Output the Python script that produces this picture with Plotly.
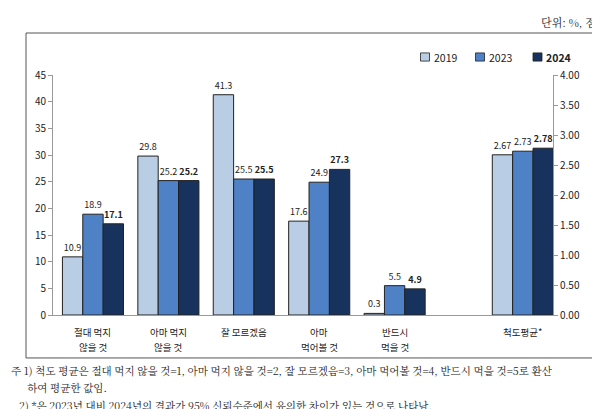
import plotly.graph_objects as go

categories = [["절대 먹지", "않을 것"], ["아마 먹지", "않을 것"], ["잘 모르겠음", ""], ["아마", "먹어볼 것"], ["반드시", "먹을 것"]]
v2019 = [10.9, 29.8, 41.3, 17.6, 0.3]
v2023 = [18.9, 25.2, 25.5, 24.9, 5.5]
v2024 = [17.1, 25.2, 25.5, 27.3, 4.9]
avg_label = "척도평균*"
avg = {"2019": 2.67, "2023": 2.73, "2024": 2.78}
years = ["2019", "2023", "2024"]

xpos = [0, 1, 2, 3, 4]
xavg = 5.7
colors = {"2019": "#b9cde5", "2023": "#4f81c7", "2024": "#17325c"}
offsets = {"2019": -0.405, "2023": -0.135, "2024": 0.135}
W = 0.27
font = "Noto Sans CJK KR"
serif = "Noto Serif CJK KR, serif"

fig = go.Figure()
for yr, vals in zip(years, [v2019, v2023, v2024]):
    bold = yr == "2024"
    fig.add_bar(x=xpos, y=vals, width=W, offset=offsets[yr], showlegend=False,
                marker=dict(color=colors[yr], line=dict(color="#222", width=1)),
                text=[("<b>%.1f</b>" % v) if bold else "%.1f" % v for v in vals],
                textposition="outside", textfont=dict(size=9, color="#222"), cliponaxis=False)
for yr in years:
    bold = yr == "2024"
    fig.add_bar(x=[xavg], y=[avg[yr]], yaxis="y2", width=W, offset=offsets[yr], showlegend=False,
                marker=dict(color=colors[yr], line=dict(color="#222", width=1)),
                text=[("<b>%.2f</b>" % avg[yr]) if bold else "%.2f" % avg[yr]],
                textposition="outside", textfont=dict(size=9, color="#222"), cliponaxis=False)

shapes = [dict(type="rect", xref="paper", yref="paper", x0=-0.054, x1=1.08, y0=-0.179, y1=1.175,
               line=dict(color="#555", width=1))]
fig.update_layout(
    width=600, height=409, margin=dict(l=45, r=55, t=67, b=102),
    paper_bgcolor="white", plot_bgcolor="white",
    font=dict(family=font, size=10, color="#222"),
    barmode="overlay", showlegend=False,
    xaxis=dict(range=[-0.53, 6.1], tickvals=xpos + [xavg], showticklabels=False,
               showline=True, linecolor="#999", ticks="", showgrid=False, zeroline=False),
    yaxis=dict(range=[0, 45], dtick=5, showline=True, linecolor="#999", ticks="outside",
               tickcolor="#999", ticklen=4, showgrid=False, zeroline=False, tickfont=dict(size=10)),
    yaxis2=dict(range=[0, 4], dtick=0.5, tickformat=".2f", overlaying="y", side="right",
                showline=True, linecolor="#999", ticks="outside", tickcolor="#999", ticklen=4,
                showgrid=False, zeroline=False, tickfont=dict(size=10)),
)
# category labels
labels = categories + [[avg_label, ""]]
for x, (l1, l2) in zip(xpos + [xavg], labels):
    for y, t in [(-0.07, l1), (-0.135, l2)]:
        if t:
            fig.add_annotation(x=x, xref="x", yref="paper", y=y, text=t, showarrow=False,
                               font=dict(size=9.5), yanchor="middle")
# manual legend
lx = [0.735, 0.845, 0.96]
for x0, yr in zip(lx, years):
    shapes.append(dict(type="rect", xref="paper", yref="paper", x0=x0, x1=x0 + 0.018,
                       y0=1.058, y1=1.092, fillcolor=colors[yr], line=dict(color="#222", width=0.8)))
    fig.add_annotation(xref="paper", yref="paper", x=x0 + 0.022, y=1.075, xanchor="left",
                       yanchor="middle", showarrow=False, font=dict(size=10.5),
                       text=("<b>%s</b>" % yr) if yr == "2024" else yr)
fig.update_layout(shapes=shapes)

notes = [
    (-0.233, "주 1) 척도 평균은 절대 먹지 않을 것=1, 아마 먹지 않을 것=2, 잘 모르겠음=3, 아마 먹어볼 것=4, 반드시 먹을 것=5로 환산"),
    (-0.300, "      하여 평균한 값임."),
    (-0.379, "   2) *은 2023년 대비 2024년의 결과가 95% 신뢰수준에서 유의한 차이가 있는 것으로 나타남."),
]
for y, t in notes:
    fig.add_annotation(xref="paper", yref="paper", x=-0.088, y=y, xanchor="left", yanchor="middle",
                       text=t, showarrow=False, font=dict(size=10.5, family=serif))
fig.add_annotation(xref="paper", yref="paper", x=1.09, y=1.22, xanchor="right", yanchor="middle",
                   text="단위: %, 점", showarrow=False, font=dict(size=11, family=serif))
fig.write_html("out.html")
